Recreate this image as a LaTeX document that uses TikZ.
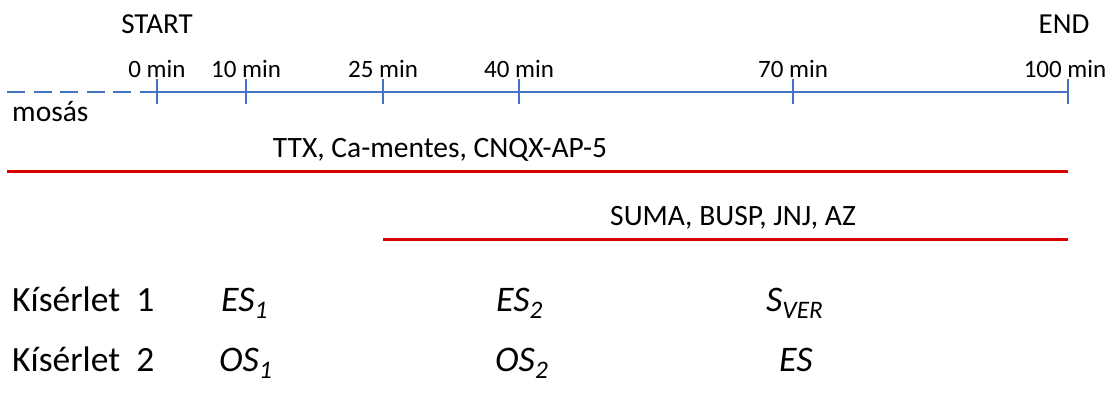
\documentclass[tikz,border=0pt]{standalone}
\usepackage{fontspec}
\setmainfont{Carlito}
\definecolor{axisblue}{HTML}{4472C4}
\definecolor{drugred}{HTML}{D90000}
\begin{document}
\begin{tikzpicture}[x=1pt,y=-1pt,
  axis/.style={axisblue,line width=2.6pt},
  tick/.style={axisblue,line width=2.6pt},
  drug/.style={drugred,line width=3pt},
  minlbl/.style={inner sep=0pt,anchor=base,font=\fontsize{25}{30}\selectfont},
  endlbl/.style={inner sep=0pt,anchor=base,font=\fontsize{29}{34}\selectfont},
  druglbl/.style={inner sep=0pt,anchor=base,font=\fontsize{29.5}{34}\selectfont},
  rowlbl/.style={inner sep=0pt,anchor=base west,font=\fontsize{35.5}{40}\selectfont},
  sym/.style={inner sep=0pt,anchor=base west,font=\fontsize{36}{42}\selectfont\itshape}]
\useasboundingbox (0,0) rectangle (1112,392);
% axis
\coordinate (w0) at (7,92);
\foreach \n/\x in {t0/157,t10/246,t25/383,t40/519,t70/793,t100/1068}{
  \coordinate (\n) at (\x,92);
  \coordinate (\n top) at (\x,79);
  \coordinate (\n bot) at (\x,104);
  \draw[tick] (\n top) -- (\n bot);
}
\draw[axis,dash pattern=on 18pt off 8.5pt] (w0) -- (t0);
\draw[axis] (t0) -- (t100);
% labels
\node[minlbl] (l0) at (157,77) {0 min};
\node[minlbl] (l10) at (246,77) {10 min};
\node[minlbl] (l25) at (383,77) {25 min};
\node[minlbl] (l40) at (519,77) {40 min};
\node[minlbl] (l70) at (793,77) {70 min};
\node[minlbl] (l100) at (1065,77) {100 min};
\node[endlbl] (start) at (157,33) {START};
\node[endlbl] (end) at (1064,33) {END};
\node[druglbl,anchor=base west] (mosas) at (12,121) {mosás};
% drug lines
\coordinate (d1a) at (7,171);
\coordinate (d1b) at (1068,171);
\draw[drug] (d1a) -- (d1b);
\node[druglbl] (ttx) at (440,157) {TTX, Ca-mentes, CNQX-AP-5};
\coordinate (d2a) at (383,239);
\coordinate (d2b) at (1068,239);
\draw[drug] (d2a) -- (d2b);
\node[druglbl] (suma) at (733,225) {SUMA, BUSP, JNJ, AZ};
% rows
\node[rowlbl] (k1) at (12,311) {Kísérlet\ \ 1};
\node[rowlbl] (k2) at (12,371) {Kísérlet\ \ 2};
\node[sym] (es1) at (221,311) {ES\textsubscript{1}};
\node[sym] (es2) at (496,311) {ES\textsubscript{2}};
\node[sym] (sver) at (766,311) {S\textsubscript{VER}};
\node[sym] (os1) at (219,371) {OS\textsubscript{1}};
\node[sym] (os2) at (495,371) {OS\textsubscript{2}};
\node[sym] (es) at (779,371) {ES};
\end{tikzpicture}
\end{document}
